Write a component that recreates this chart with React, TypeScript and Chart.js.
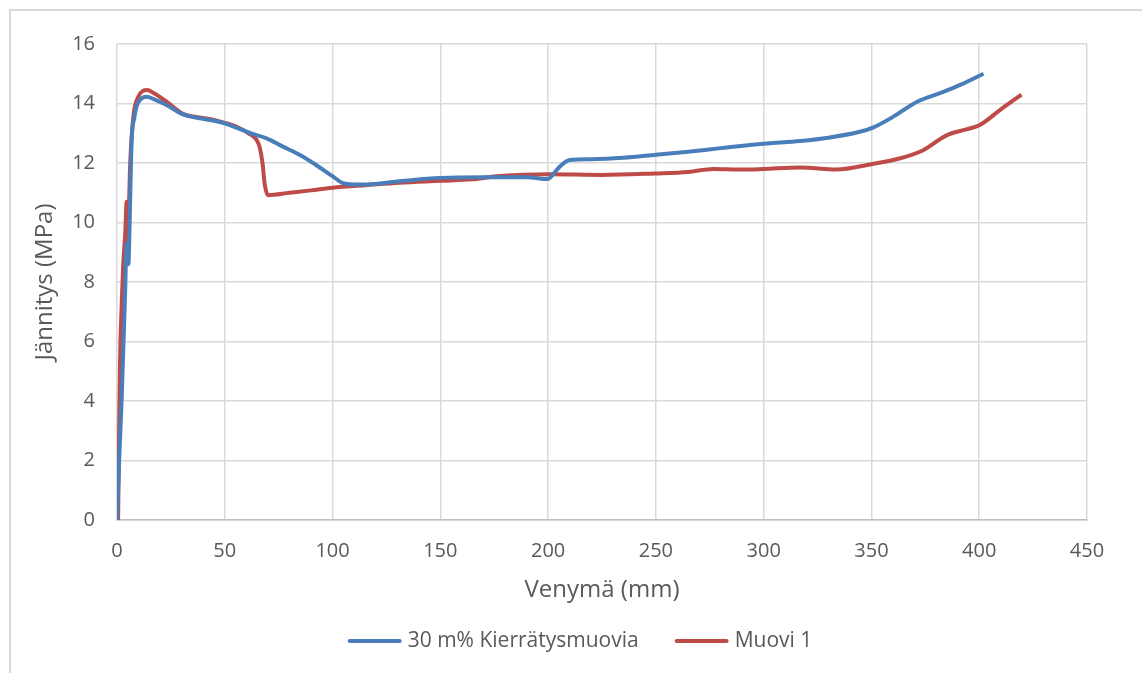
import React, { useEffect, useRef } from 'react';
import { Chart, registerables } from 'chart.js';

Chart.register(...registerables);

// Series 1: 30 m% Kierrätysmuovia (blue)
const blueX = [0, 1, 2.2, 3.7, 4.5, 5.3, 5.8, 6.8, 8, 9.1, 11, 13.8, 17, 23, 30, 38.5, 45, 50, 55, 62, 69.4, 77, 84.9, 92, 100.3, 105, 110, 116, 130, 150, 170, 190, 200, 201.5, 205, 210, 220, 235, 250, 265, 280, 300, 317, 330, 344.6, 351, 360, 371, 383, 392, 402];
const blueY = [0, 2.0, 4.15, 7.5, 9.3, 8.6, 9.8, 12.77, 13.5, 13.9, 14.15, 14.23, 14.15, 13.95, 13.65, 13.5, 13.42, 13.33, 13.2, 13.0, 12.83, 12.55, 12.27, 11.95, 11.54, 11.32, 11.28, 11.28, 11.38, 11.5, 11.52, 11.52, 11.46, 11.55, 11.85, 12.1, 12.13, 12.18, 12.28, 12.38, 12.5, 12.65, 12.74, 12.85, 13.05, 13.2, 13.55, 14.05, 14.38, 14.65, 15.0];

// Series 2: Muovi 1 (red)
const redX = [0.5, 1, 1.4, 2.2, 2.9, 3.8, 4.5, 4.7, 5.2, 6, 7.6, 9.9, 12, 14, 17, 23, 30.6, 38.5, 45, 50, 56, 61, 64.8, 66.3, 67.5, 68.5, 70, 80, 90, 100.2, 115, 131, 150, 165, 177.6, 200.8, 225, 249.5, 265, 276.5, 290, 300, 317, 333.8, 350, 363, 374, 384.8, 394, 400.3, 409.6, 419.6];
const redY = [0, 3, 5.3, 7.3, 8.6, 9.6, 10.7, 8.9, 9.5, 11.76, 13.56, 14.23, 14.42, 14.45, 14.35, 14.06, 13.65, 13.53, 13.45, 13.35, 13.2, 13.0, 12.77, 12.5, 12.0, 11.3, 10.92, 11.0, 11.08, 11.17, 11.25, 11.34, 11.4, 11.45, 11.56, 11.62, 11.6, 11.65, 11.7, 11.8, 11.78, 11.8, 11.85, 11.78, 11.96, 12.15, 12.43, 12.93, 13.13, 13.28, 13.78, 14.3];

const seriesNames = ['30 m% Kierrätysmuovia', 'Muovi 1'];
const seriesColors = ['#4a7ebb', '#be4b48'];
const xTickValues = [0, 50, 100, 150, 200, 250, 300, 350, 400, 450];
const yTickValues = [0, 2, 4, 6, 8, 10, 12, 14, 16];
const xTitle = 'Venymä (mm)';
const yTitle = 'Jännitys (MPa)';

const FONT = "'Open Sans', 'DejaVu Sans', sans-serif";
const TEXT = '#595959';

const legendPlugin = {
  id: 'excelLegend',
  afterDraw(chart: any) {
    const ctx = chart.ctx;
    ctx.save();
    ctx.font = `21px ${FONT}`;
    const lineW = 54;
    const gap = 6;
    const spacing = 36;
    const items = chart.data.datasets.map((d: any) => ({
      label: d.label,
      color: d.borderColor,
      w: ctx.measureText(d.label).width,
    }));
    const total = items.reduce((s: number, i: any) => s + lineW + gap + i.w, 0) + spacing * (items.length - 1);
    let x = 580 - total / 2;
    const y = 641;
    items.forEach((it: any) => {
      ctx.strokeStyle = it.color;
      ctx.lineWidth = 4;
      ctx.lineCap = 'round';
      ctx.beginPath();
      ctx.moveTo(x + 2, y);
      ctx.lineTo(x + lineW - 2, y);
      ctx.stroke();
      ctx.fillStyle = TEXT;
      ctx.textBaseline = 'middle';
      ctx.textAlign = 'left';
      ctx.fillText(it.label, x + lineW + gap, y);
      x += lineW + gap + it.w + spacing;
    });
    ctx.restore();
  },
};

export default function App() {
  const canvasRef = useRef<HTMLCanvasElement | null>(null);

  useEffect(() => {
    const canvas = canvasRef.current;
    if (!canvas) return;
    const toPoints = (xs: number[], ys: number[]) => xs.map((x, i) => ({ x, y: ys[i] }));
    const chart = new Chart(canvas, {
      type: 'line',
      data: {
        datasets: [
          {
            label: seriesNames[0],
            data: toPoints(blueX, blueY),
            borderColor: seriesColors[0],
            backgroundColor: seriesColors[0],
            borderWidth: 4,
            pointRadius: 0,
            cubicInterpolationMode: 'monotone',
            fill: false,
          },
          {
            label: seriesNames[1],
            data: toPoints(redX, redY),
            borderColor: seriesColors[1],
            backgroundColor: seriesColors[1],
            borderWidth: 4,
            pointRadius: 0,
            cubicInterpolationMode: 'monotone',
            fill: false,
          },
        ],
      },
      options: {
        responsive: false,
        animation: false,
        devicePixelRatio: 1,
        layout: { padding: { left: 0, right: 55, top: 44, bottom: 53 } },
        plugins: {
          legend: { display: false },
          tooltip: { enabled: false },
        },
        scales: {
          x: {
            type: 'linear',
            min: 0,
            max: 450,
            afterBuildTicks: (scale: any) => {
              scale.ticks = xTickValues.map((v) => ({ value: v }));
            },
            afterFit: (scale: any) => {
              scale.height = 100;
            },
            ticks: {
              color: TEXT,
              font: { family: FONT, size: 20 },
              padding: 19,
              maxRotation: 0,
            },
            grid: { color: '#d9d9d9', lineWidth: 1.5, drawTicks: false },
            border: { display: true, color: '#bfbfbf', width: 1.5 },
            title: {
              display: true,
              text: xTitle,
              color: TEXT,
              font: { family: FONT, size: 24 },
              padding: { top: 0, bottom: 15.6 },
            },
          },
          y: {
            type: 'linear',
            min: 0,
            max: 16,
            afterBuildTicks: (scale: any) => {
              scale.ticks = yTickValues.map((v) => ({ value: v }));
            },
            afterFit: (scale: any) => {
              scale.width = 117;
            },
            ticks: {
              color: TEXT,
              font: { family: FONT, size: 20 },
              padding: 22,
            },
            grid: { color: '#d9d9d9', lineWidth: 1.5, drawTicks: false },
            border: { display: false },
            title: {
              display: true,
              text: yTitle,
              color: TEXT,
              font: { family: FONT, size: 24 },
              padding: { top: 30.6, bottom: 0 },
            },
          },
        },
      } as any,
      plugins: [legendPlugin],
    });
    return () => chart.destroy();
  }, []);

  return (
    <div style={{ position: 'absolute', left: 0, top: 0, width: 1142, height: 673, overflow: 'hidden', background: '#fff' }}>
      <div
        style={{
          position: 'absolute',
          left: 9,
          top: 9,
          right: 0,
          bottom: 0,
          borderTop: '2px solid #d9d9d9',
          borderLeft: '2px solid #d9d9d9',
          boxSizing: 'border-box',
        }}
      />
      <canvas ref={canvasRef} width={1142} height={673} style={{ position: 'absolute', left: 0, top: 0 }} />
    </div>
  );
}
